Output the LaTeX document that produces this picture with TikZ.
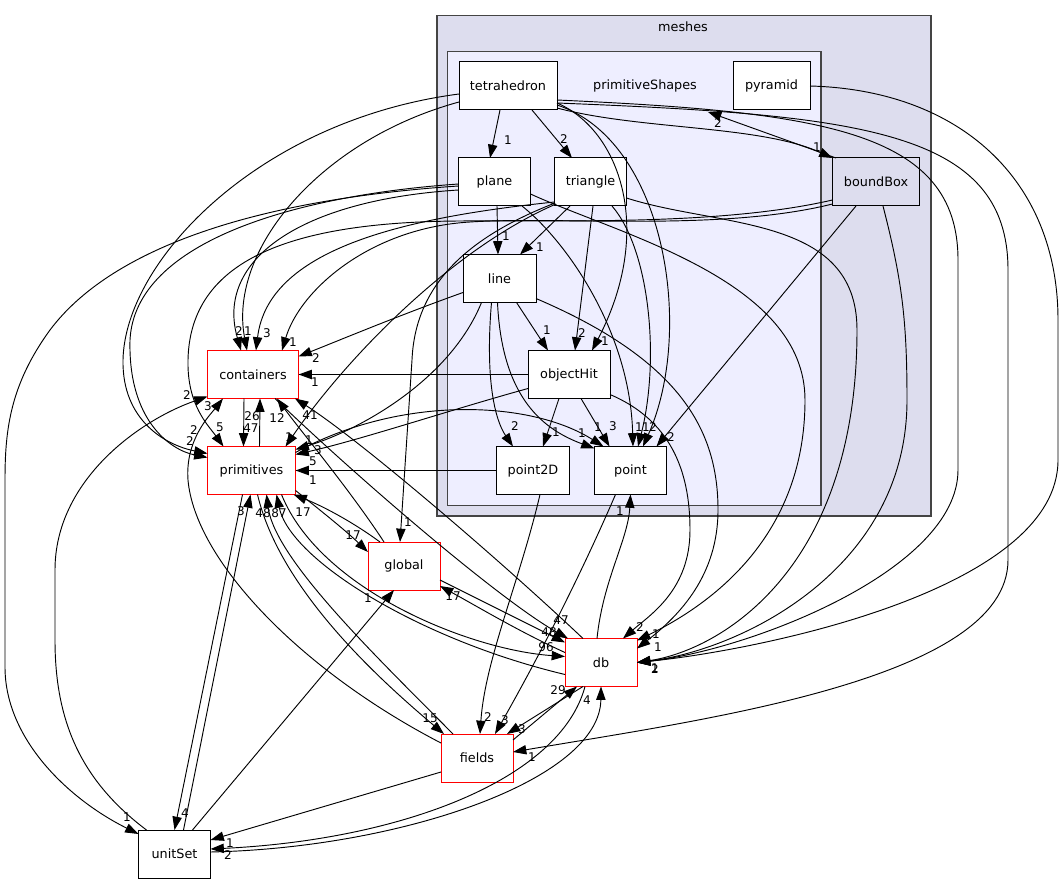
\documentclass[tikz,border=0pt]{standalone}
\usepackage{fontspec}
\setmainfont{DejaVu Sans}
\usetikzlibrary{arrows.meta,calc}
\definecolor{meshfill}{HTML}{DDDDEE}
\definecolor{psfill}{HTML}{EEEEFF}
\definecolor{clborder}{HTML}{444444}
\tikzset{
  dirnode/.style={draw=black, fill=white, line width=0.75pt, minimum height=36pt, inner sep=0pt, font=\fontsize{9.6}{11}\selectfont},
  extnode/.style={dirnode, draw=red},
  cluster/.style={draw=clborder, line width=1.1pt},
  clab/.style={font=\fontsize{9.6}{11}\selectfont, inner sep=0pt},
  e/.style={-{Triangle[length=10pt,width=7pt]}, line width=0.7pt},
  lab/.style={font=\fontsize{9}{10}\selectfont, inner sep=0pt},
}
\begin{document}
\begin{tikzpicture}[x=0.75pt,y=-0.75pt]
\useasboundingbox (0,0) rectangle (1064,884);
% clusters
\draw[cluster, fill=meshfill] (437,15.5) rectangle (931,516);
\node[clab] (meshesL) at (683,27) {meshes};
\draw[cluster, fill=psfill] (447.5,51.5) rectangle (821,505.5);
\node[clab] (psL) at (645,86) {primitiveShapes};
\coordinate (psA) at (708,112);
% nodes
\node[dirnode, minimum width=73.5pt] (T) at (508,86) {tetrahedron};
\node[dirnode, minimum width=57.75pt] (Py) at (771.5,86) {pyramid};
\node[dirnode, minimum width=65.25pt, fill=meshfill] (B) at (876,182) {boundBox};
\node[dirnode, minimum width=54pt] (Pl) at (494.5,182) {plane};
\node[dirnode, minimum width=54pt] (Tr) at (590.5,182) {triangle};
\node[dirnode, minimum width=54.75pt] (L) at (499.5,278.5) {line};
\node[dirnode, minimum width=61.5pt] (O) at (569,374.5) {objectHit};
\node[dirnode, minimum width=54.75pt] (P2) at (533,470.5) {point2D};
\node[dirnode, minimum width=54pt] (Pt) at (630.5,470.5) {point};
\node[extnode, minimum width=68.25pt] (C) at (253,374.5) {containers};
\node[extnode, minimum width=66pt] (Pr) at (251.5,470.5) {primitives};
\node[extnode, minimum width=54pt] (G) at (404,566) {global};
\node[extnode, minimum width=54pt] (D) at (601,662.5) {db};
\node[extnode, minimum width=54pt] (F) at (477,758) {fields};
\node[dirnode, minimum width=54pt] (U) at (174.5,854) {unitSet};

% ---- edges inside primitiveShapes
\draw[e] ($(T)+(-8,24)$) -- ($(Pl)+(-4.5,-24)$);
\node[lab] (l1) at (508,140) {1};
\draw[e] ($(T)+(24,24)$) -- ($(Tr)+(-18.5,-24)$);
\node[lab] (l2) at (564,139) {2};
\draw[e] ($(T)+(49,17)$) .. controls (620,130) and (655,230) .. ($(O)+(23,-24)$);
\node[lab] (l3) at (605,341) {1};
\draw[e] ($(T)+(49,19)$) .. controls (665,140) and (695,330) .. ($(Pt)+(12.5,-24)$);
\node[lab] (l4) at (646,427) {1};
\draw[e] ($(T)+(49,22)$) .. controls (640,130) and (760,125) .. ($(B)+(-43.5,-24)$);
\node[lab] (l5) at (817,147) {1};
\draw[e] ($(B)+(-40,-24)$) -- (psA);
\node[lab] (l6) at (718,123) {2};
\draw[e] ($(Pl)+(2.5,24)$) -- ($(L)+(-1.5,-24)$);
\node[lab] (l7) at (506,236) {1};
\draw[e] ($(Pl)+(27.5,24)$) .. controls (565,240) and (630,330) .. ($(Pt)+(2.5,-24)$);
\node[lab] (l8) at (639,427) {1};
\draw[e] ($(Tr)+(-20.5,24)$) -- ($(L)+(20.5,-24)$);
\node[lab] (l9) at (540,247) {1};
\draw[e] ($(Tr)+(2.5,24)$) -- ($(O)+(6,-24)$);
\node[lab] (l10) at (582,333) {2};
\draw[e] ($(Tr)+(21.5,24)$) .. controls (650,250) and (660,360) .. ($(Pt)+(7.5,-24)$);
\node[lab] (l11) at (653,427) {2};
\draw[e] ($(L)+(17,24)$) -- ($(O)+(-21,-24)$);
\node[lab] (l12) at (547,330) {1};
\draw[e] ($(L)+(-8,24)$) .. controls (485,380) and (495,420) .. ($(P2)+(-20,-24)$);
\node[lab] (l13) at (515,426) {2};
\draw[e] ($(L)+(-2,24)$) .. controls (502,400) and (545,430) .. ($(Pt)+(-36,-22)$);
\node[lab] (l14) at (582,433) {1};
\draw[e] ($(O)+(-10,24)$) -- ($(P2)+(10,-24)$);
\node[lab] (l15) at (556,432) {1};
\draw[e] ($(O)+(12,24)$) -- ($(Pt)+(-21,-24)$);
\node[lab] (l16) at (613,426) {3};
\draw[e] ($(B)+(-20,24)$) -- ($(Pt)+(26,-24)$);
\node[lab] (l17) at (671,437) {2};

% ---- edges to db from the right
\draw[e] ($(T)+(49,14)$) .. controls (820,112) and (958,130) .. (958,260) -- (958,470) .. controls (958,570) and (750,650) .. ($(D)+(36,0)$);
\draw[e] ($(T)+(49,17)$) .. controls (860,115) and (1008,130) .. (1008,270) -- (1008,560) .. controls (1008,680) and (700,720) .. ($(F)+(36,-6)$);
\node[lab] (l18) at (532,757) {1};
\draw[e] ($(Py)+(38.5,0)$) .. controls (960,90) and (1058,180) .. (1058,320) -- (1058,460) .. controls (1058,590) and (760,650) .. ($(D)+(36,0)$);
\draw[e] ($(B)+(7,24)$) .. controls (902,280) and (907,320) .. (907,400) .. controls (907,570) and (740,650) .. ($(D)+(36,0)$);
\draw[e] ($(Tr)+(36,16)$) .. controls (720,228) and (857,215) .. (857,330) .. controls (857,570) and (720,650) .. ($(D)+(36,0)$);
\node[lab] (l19) at (655,668) {1};
\node[lab] (l20) at (655,669) {2};
\draw[e] ($(Pl)+(36,12)$) .. controls (620,235) and (805,280) .. (805,400) .. controls (805,530) and (720,600) .. ($(D)+(36,-22)$);
\node[lab] (l21) at (656,634) {1};
\draw[e] ($(L)+(36.5,20)$) .. controls (680,360) and (718,430) .. (718,510) .. controls (718,575) and (680,615) .. ($(D)+(36,-14)$);
\node[lab] (l22) at (658,647) {1};
\draw[e] ($(O)+(41,20)$) .. controls (670,420) and (690,470) .. (690,530) .. controls (690,590) and (650,615) .. ($(D)+(22,-24)$);
\node[lab] (l23) at (640,627) {2};
\draw[e] ($(D)+(-4,-24)$) .. controls (603,580) and (628,540) .. ($(Pt)+(0,24)$);
\node[lab] (l24) at (620,511) {1};

% ---- containers
\draw[e] ($(T)+(-49,16)$) .. controls (320,140) and (228,250) .. ($(C)+(-6,-24)$);
\node[lab] (l25) at (248,331) {1};
\draw[e] ($(Pl)+(-36,8)$) .. controls (300,200) and (215,260) .. ($(C)+(-12,-24)$);
\node[lab] (l26) at (239,331) {2};
\draw[e] ($(Tr)+(-36,20)$) .. controls (400,218) and (268,250) .. ($(C)+(3,-24)$);
\node[lab] (l27) at (267,333) {3};
\draw[e] ($(B)+(-43.5,22)$) .. controls (720,232) and (560,216) .. (470,222) .. controls (370,228) and (300,290) .. ($(C)+(29,-24)$);
\node[lab] (l28) at (293,342) {1};
\draw[e] ($(L)+(-36.5,14)$) .. controls (400,315) and (340,340) .. ($(C)+(45.5,-18)$);
\node[lab] (l29) at (316,358) {2};
\draw[e] ($(O)+(-41,0)$) -- ($(C)+(45.5,0)$);
\node[lab] (l30) at (315,382) {1};
\draw[e] ($(Pr)+(8,-24)$) -- ($(C)+(7,24)$);
\node[lab] (l31) at (252,416) {26};
\draw[e] ($(C)+(-9,24)$) -- ($(Pr)+(-8,-24)$);
\node[lab] (l32) at (251,428) {47};
\draw[e] ($(G)+(-20,-24)$) .. controls (350,490) and (300,430) .. ($(C)+(24,24)$);
\node[lab] (l33) at (277,418) {12};
\draw[e] ($(D)+(-18,-24)$) .. controls (500,560) and (360,440) .. ($(C)+(42,24)$);
\node[lab] (l34) at (310,415) {41};
\draw[e] ($(F)+(-36,-15)$) .. controls (300,670) and (195,560) .. (188,480) .. controls (185,440) and (210,415) .. ($(C)+(-30,24)$);
\node[lab] (l35) at (208,406) {3};
\draw[e] ($(U)+(-28,-24)$) .. controls (80,780) and (55,720) .. (55,640) -- (55,570) .. controls (55,480) and (140,420) .. ($(C)+(-45.5,22)$);
\node[lab] (l36) at (187,395) {2};

% ---- primitives
\draw[e] ($(T)+(-49,8)$) .. controls (260,120) and (125,260) .. (123,360) .. controls (122,420) and (165,445) .. ($(Pr)+(-44,-17)$);
\node[lab] (l37) at (194,430) {2};
\draw[e] ($(Pl)+(-36,2)$) .. controls (300,195) and (135,240) .. (130,340) .. controls (128,420) and (170,450) .. ($(Pr)+(-44,-13)$);
\node[lab] (l38) at (190,441) {2};
\draw[e] ($(B)+(-43.5,18)$) .. controls (720,226) and (560,220) .. (460,221) .. controls (290,222) and (190,260) .. (188,360) .. controls (187,405) and (208,425) .. ($(Pr)+(-28,-24)$);
\node[lab] (l39) at (220,427) {5};
\draw[e] ($(Tr)+(-34.5,22)$) .. controls (450,250) and (345,360) .. ($(Pr)+(34,-24)$);
\node[lab] (l40) at (289,437) {1};
\draw[e] ($(L)+(-18,24)$) .. controls (450,380) and (360,430) .. ($(Pr)+(44,-21)$);
\node[lab] (l41) at (309,440) {1};
\draw[e] ($(O)+(-41,14)$) .. controls (450,410) and (360,440) .. ($(Pr)+(44,-16)$);
\node[lab] (l42) at (318,450) {3};
\node[lab] (l42b) at (313,461) {5};
\draw[e] ($(P2)+(-36.5,0)$) -- ($(Pr)+(44,0)$);
\node[lab] (l43) at (313,480) {1};
\draw[e] ($(Pr)+(44,-18)$) .. controls (400,395) and (530,400) .. ($(Pt)+(-27,-24)$);
\node[lab] (l44) at (598,427) {1};
\draw[e] ($(G)+(-24,-24)$) .. controls (350,520) and (320,505) .. ($(Pr)+(42,24)$);
\node[lab] (l45) at (303,512) {17};
\draw[e] ($(Pr)+(44,20)$) .. controls (320,510) and (345,530) .. ($(G)+(-36,-14)$);
\node[lab] (l46) at (353,535) {17};
\draw[e] ($(U)+(9,-24)$) -- ($(Pr)+(-1,24)$);
\node[lab] (l47) at (241,511) {3};
\draw[e] ($(Pr)+(-9,24)$) -- ($(U)+(0,-24)$);
\node[lab] (l48) at (185,813) {4};
\draw[e] ($(F)+(-24,-24)$) .. controls (380,660) and (275,560) .. ($(Pr)+(15,24)$);
\node[lab] (l49) at (263,513) {48};
\draw[e] ($(D)+(-36,12)$) .. controls (420,640) and (290,560) .. ($(Pr)+(25,24)$);
\node[lab] (l50) at (279,513) {87};
\draw[e] ($(Pr)+(6,24)$) .. controls (280,590) and (380,680) .. ($(F)+(-33,-24)$);
\node[lab] (l51) at (430,718) {15};
\draw[e] ($(Pr)+(30,24)$) .. controls (320,590) and (470,650) .. ($(D)+(-36,-6)$);
\node[lab] (l52) at (546,647) {96};
\draw[e] ($(C)+(22,24)$) .. controls (360,480) and (500,600) .. ($(D)+(-33,-24)$);
\node[lab] (l53) at (561,620) {47};

% ---- global
\draw[e] ($(Tr)+(-35.5,21)$) .. controls (460,240) and (415,290) .. (412,360) -- ($(G)+(-4,-24)$);
\node[lab] (l54) at (408,522) {1};
\draw[e] ($(G)+(36,14)$) .. controls (480,600) and (530,625) .. ($(D)+(-36,-20)$);
\node[lab] (l55) at (549,632) {48};
\draw[e] ($(D)+(-36,-10)$) .. controls (520,632) and (480,608) .. ($(G)+(36,20)$);
\node[lab] (l56) at (453,596) {17};
\draw[e] ($(U)+(18,-24)$) -- ($(G)+(-10,24)$);
\node[lab] (l57) at (368,598) {1};

% ---- fields
\draw[e] ($(P2)+(7,24)$) .. controls (520,580) and (485,660) .. ($(F)+(3,-24)$);
\node[lab] (l58) at (488,717) {2};
\draw[e] ($(Pt)+(-15,24)$) .. controls (570,600) and (520,690) .. ($(F)+(18,-24)$);
\node[lab] (l59) at (505,720) {3};
\draw[e] ($(D)+(-18,24)$) -- ($(F)+(30,-24)$);
\node[lab] (l60) at (522,729) {3};
\draw[e] ($(F)+(36,-18)$) -- ($(D)+(-24,24)$);
\node[lab] (l61) at (558,690) {29};

% ---- unitSet
\draw[e] ($(Pl)+(-36,4)$) .. controls (250,200) and (110,250) .. (50,330) .. controls (10,385) and (5,430) .. (5,480) -- (5,667) .. controls (5,740) and (70,800) .. ($(U)+(-36,-20)$);
\node[lab] (l62) at (127,817) {1};
\draw[e] ($(F)+(-36,14)$) -- ($(U)+(36,-14)$);
\node[lab] (l63) at (230,843) {1};
\draw[e] ($(D)+(-16,24)$) .. controls (560,780) and (400,840) .. ($(U)+(36,-5)$);
\node[lab] (l64) at (228,855) {2};
\draw[e] ($(U)+(36,-2)$) .. controls (400,848) and (600,780) .. ($(D)+(0,24)$);
\node[lab] (l65) at (587,700) {4};
\end{tikzpicture}
\end{document}
